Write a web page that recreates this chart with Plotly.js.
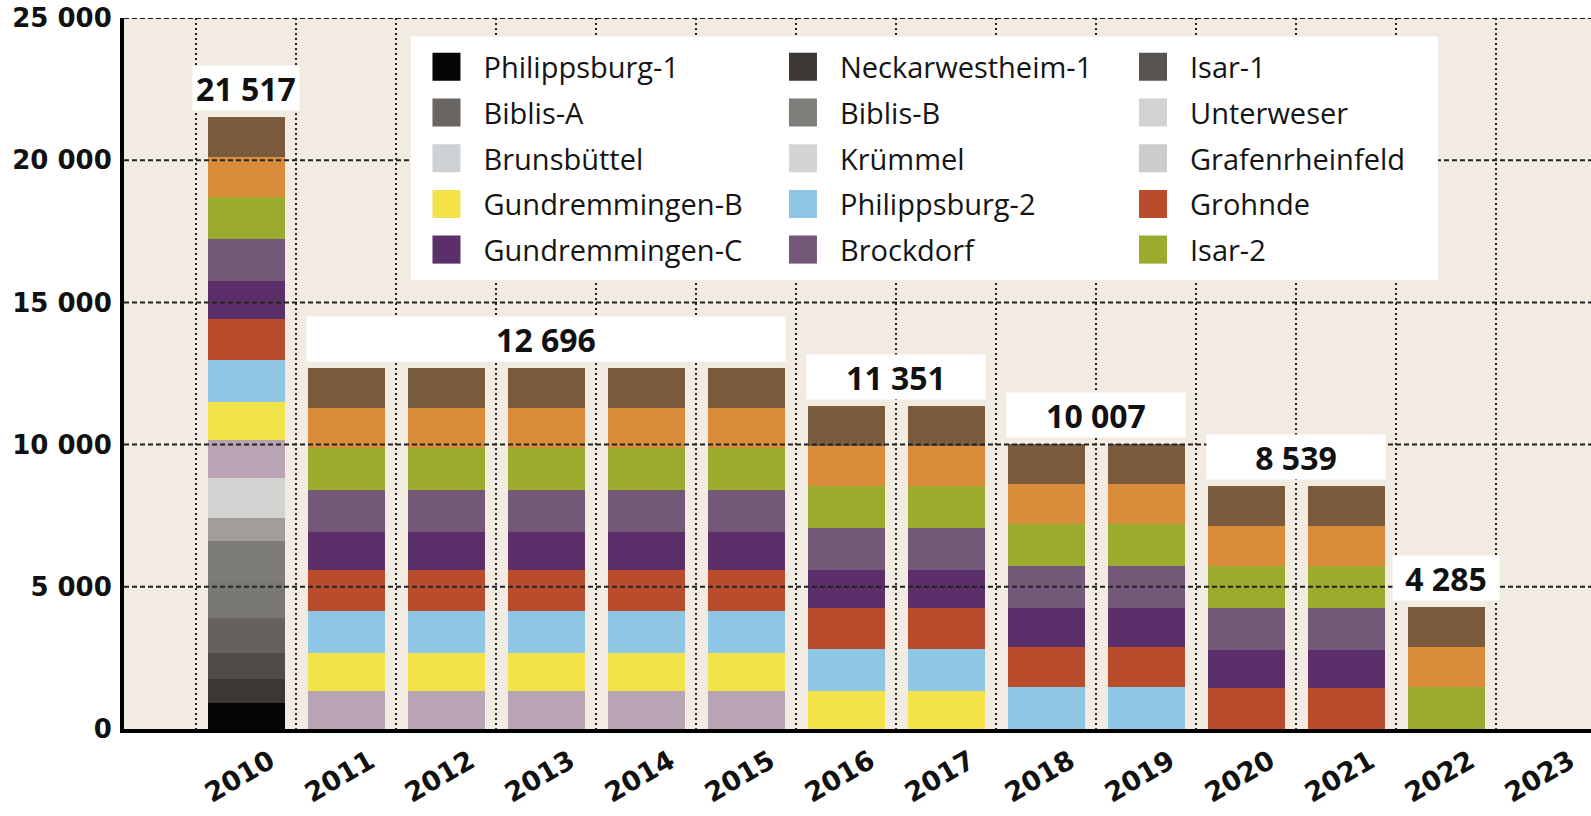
<!DOCTYPE html>
<html>
<head>
<meta charset="utf-8">
<script src="https://cdn.plot.ly/plotly-3.0.1.min.js"></script>
<style>
  html, body { margin: 0; padding: 0; background: #ffffff; }
  #chart { width: 1591px; height: 816px; }
</style>
</head>
<body>
<div id="chart"></div>
<script>
// ---------- DATA ----------
const years = ['2010','2011','2012','2013','2014','2015','2016','2017','2018','2019','2020','2021','2022','2023'];

// Capacity (MW) per reactor, one value per year from 2010 while in operation
const philippsburg1   = [926];
const neckarwestheim1 = [840];
const isar1           = [912];
const biblisA         = [1225];
const biblisB         = [1300];
const unterweser      = [1410];
const brunsbuettel    = [806];
const kruemmel        = [1402];
const grafenrheinfeld = [1345, 1345, 1345, 1345, 1345, 1345];
const gundremmingenB  = [1344, 1344, 1344, 1344, 1344, 1344, 1344, 1344];
const philippsburg2   = [1468, 1468, 1468, 1468, 1468, 1468, 1468, 1468, 1468, 1468];
const grohnde         = [1430, 1430, 1430, 1430, 1430, 1430, 1430, 1430, 1430, 1430, 1430, 1430];
const gundremmingenC  = [1344, 1344, 1344, 1344, 1344, 1344, 1344, 1344, 1344, 1344, 1344, 1344];
const brockdorf       = [1480, 1480, 1480, 1480, 1480, 1480, 1480, 1480, 1480, 1480, 1480, 1480];
const isar2           = [1485, 1485, 1485, 1485, 1485, 1485, 1485, 1485, 1485, 1485, 1485, 1485, 1485];
const neckarwestheim2 = [1400, 1400, 1400, 1400, 1400, 1400, 1400, 1400, 1400, 1400, 1400, 1400, 1400];
const emsland         = [1400, 1400, 1400, 1400, 1400, 1400, 1400, 1400, 1400, 1400, 1400, 1400, 1400];

const reactorNames = ['Philippsburg-1','Neckarwestheim-1','Isar-1','Biblis-A','Biblis-B','Unterweser',
  'Brunsbüttel','Krümmel','Grafenrheinfeld','Gundremmingen-B','Philippsburg-2','Grohnde',
  'Gundremmingen-C','Brockdorf','Isar-2','Neckarwestheim-2','Emsland'];
const reactorValues = [philippsburg1, neckarwestheim1, isar1, biblisA, biblisB, unterweser,
  brunsbuettel, kruemmel, grafenrheinfeld, gundremmingenB, philippsburg2, grohnde,
  gundremmingenC, brockdorf, isar2, neckarwestheim2, emsland];

// Totals labels (first year, last year, value)
const totalFirst  = ['2010','2011','2016','2018','2020','2022'];
const totalLast   = ['2010','2015','2017','2019','2021','2022'];
const totalValues = [21517, 12696, 11351, 10007, 8539, 4285];

const yTicks = [0, 5000, 10000, 15000, 20000, 25000];

// ---------- STYLE ----------
const colors = ['#050505','#3a3734','#4f4c49','#64615e','#797774','#7e7c79',
  '#a09d9a','#d3d3d1','#b8a4b2','#f2e34a','#8ec6e4','#b84c2c',
  '#5b2f6a','#745878','#9bab2e','#d98d3b','#7a5b3d'];
// swatch colours as printed in the key
const keyColors = ['#050505','#3a3734','#575451','#686563','#7e7d7a','#d2d2d2',
  '#cdd1d4','#d3d3d3','#cccccc','#f2e34a','#8ec6e4','#b84c2c',
  '#5b2f6a','#745878','#9bab2e'];
const legendIds = ['legend','legend2','legend3'];

function fmt(v) { return String(v).replace(/\B(?=(\d{3})+(?!\d))/g, ' '); }

const traces = reactorNames.map((name, i) => ({
  type: 'bar',
  name: name,
  x: years.slice(0, reactorValues[i].length),
  y: reactorValues[i],
  marker: { color: colors[i], line: { width: 0 } },
  legend: legendIds[i % 3],
  legendgroup: name,
  showlegend: i < 15,
  hoverinfo: 'name+y'
}));

const annotations = totalValues.map((v, k) => {
  const a = years.indexOf(totalFirst[k]);
  const b = years.indexOf(totalLast[k]);
  const n = b - a + 1;
  return {
    xref: 'x', yref: 'y',
    x: (a + b) / 2, y: v,
    yanchor: 'bottom', xanchor: 'center',
    yshift: 6,
    text: fmt(v),
    showarrow: false,
    bgcolor: '#ffffff',
    borderpad: 0,
    width: n === 1 ? 106 : n * 100 - 22,
    height: 44,
    align: 'center', valign: 'middle',
    font: { family: 'Open Sans', size: 32, color: '#111111', weight: 'bold' }
  };
});

const shapes = yTicks.filter(t => t > 0).map(t => ({
  type: 'line', layer: 'above',
  xref: 'paper', yref: 'y', x0: 0, x1: 1, y0: t, y1: t,
  line: { color: '#222222', width: 2, dash: '5px,3px' }
}));
// white legend panel
shapes.push({
  type: 'rect', layer: 'above', xref: 'paper', yref: 'paper',
  x0: 0.1956, x1: 0.8957, y0: 0.6315, y1: 0.974,
  fillcolor: '#ffffff', line: { width: 0 }
});

const legendBase = {
  yanchor: 'top', xanchor: 'left', y: 0.967,
  bgcolor: 'rgba(0,0,0,0)', borderwidth: 0,
  font: { family: 'Open Sans', size: 29, color: '#151515', weight: 500 },
  traceorder: 'grouped', tracegroupgap: 5, itemwidth: 64, valign: 'middle',
  itemclick: false, itemdoubleclick: false
};

const layout = {
  width: 1591, height: 816,
  margin: { l: 124, r: 0, t: 18, b: 87 },
  paper_bgcolor: '#ffffff',
  plot_bgcolor: '#f2ebe2',
  barmode: 'stack',
  bargap: 0.23,
  separators: ', ',
  showlegend: true,
  legend:  Object.assign({}, legendBase, { x: 0.1946 }),
  legend2: Object.assign({}, legendBase, { x: 0.4376 }),
  legend3: Object.assign({}, legendBase, { x: 0.6762 }),
  xaxis: {
    type: 'category',
    categoryorder: 'array', categoryarray: years,
    range: [-1.22, 13.45],
    tickson: 'boundaries',
    showgrid: true, gridcolor: '#222222', gridwidth: 2, griddash: '2px,3px',
    ticks: '', showline: true, linecolor: '#000000', linewidth: 4,
    tickangle: -30,
    ticklabelshift: 24, ticklabelstandoff: 2,
    tickfont: { family: 'DejaVu Sans', size: 27, color: '#111111', weight: 'bold' },
    fixedrange: true
  },
  yaxis: {
    range: [0, 25000],
    tickvals: yTicks,
    tickformat: ',d', separatethousands: true,
    showgrid: false, zeroline: false,
    ticks: '', showline: true, linecolor: '#000000', linewidth: 4,
    ticklabelstandoff: 3,
    tickfont: { family: 'DejaVu Sans', size: 26, color: '#111111', weight: 'bold' },
    fixedrange: true
  },
  annotations: annotations,
  shapes: shapes
};

function enlargeKey(gd) {
  gd.querySelectorAll('g.traces').forEach(g => {
    const d = g.__data__;
    const tr = d && d[0] && d[0].trace;
    const idx = tr ? tr.index : -1;
    g.querySelectorAll('g.legendpoints path').forEach(p => {
      p.setAttribute('d', 'M14,14H-14V-14H14Z');
      if (idx >= 0 && idx < keyColors.length) {
        p.style.fill = keyColors[idx];
        p.setAttribute('fill', keyColors[idx]);
      }
    });
  });
}

Plotly.newPlot('chart', traces, layout, { displayModeBar: false }).then(gd => {
  enlargeKey(gd);
  gd.on('plotly_afterplot', () => enlargeKey(gd));
  setTimeout(() => enlargeKey(gd), 50);
  setTimeout(() => enlargeKey(gd), 300);
});
</script>
</body>
</html>
